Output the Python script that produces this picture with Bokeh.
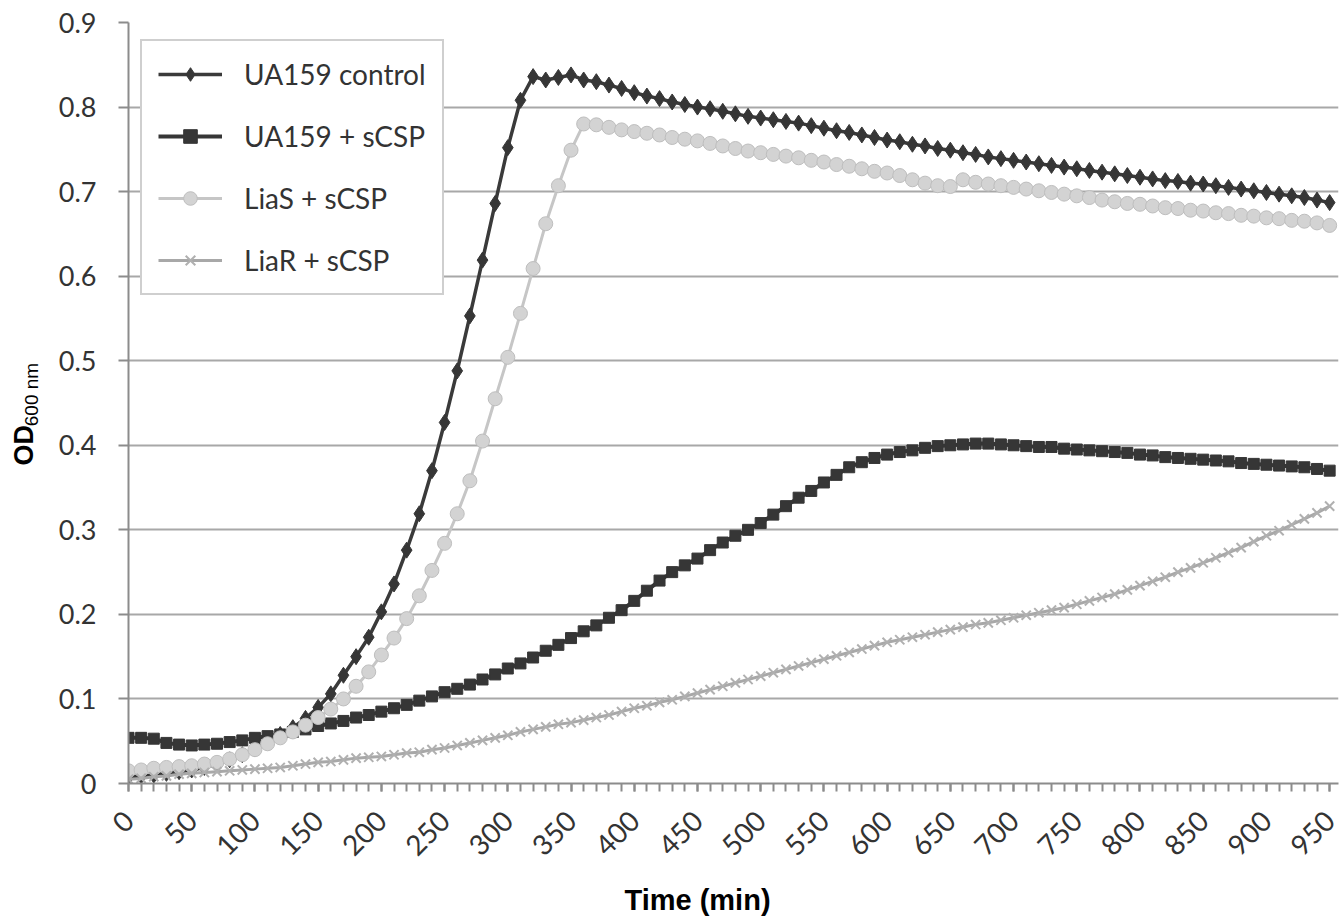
import math
from bokeh.plotting import figure
from bokeh.layouts import row, column
from bokeh.models import FixedTicker, Legend, LegendItem, Label, Range1d
from bokeh.embed import file_html
from bokeh.resources import INLINE

# ---------------- data ----------------
time_min = [
    0, 10, 20, 30, 40, 50, 60, 70, 80, 90,
    100, 110, 120, 130, 140, 150, 160, 170, 180, 190,
    200, 210, 220, 230, 240, 250, 260, 270, 280, 290,
    300, 310, 320, 330, 340, 350, 360, 370, 380, 390,
    400, 410, 420, 430, 440, 450, 460, 470, 480, 490,
    500, 510, 520, 530, 540, 550, 560, 570, 580, 590,
    600, 610, 620, 630, 640, 650, 660, 670, 680, 690,
    700, 710, 720, 730, 740, 750, 760, 770, 780, 790,
    800, 810, 820, 830, 840, 850, 860, 870, 880, 890,
    900, 910, 920, 930, 940, 950,
]

ua159_control = [
    0.008, 0.009, 0.010, 0.012, 0.014, 0.016, 0.019, 0.023, 0.028, 0.034,
    0.041, 0.049, 0.058, 0.066, 0.077, 0.090, 0.106, 0.128, 0.150, 0.173,
    0.203, 0.236, 0.276, 0.319, 0.370, 0.427, 0.488, 0.553, 0.619, 0.686,
    0.752, 0.808, 0.836, 0.832, 0.835, 0.838, 0.832, 0.830, 0.826, 0.822,
    0.817, 0.813, 0.810, 0.806, 0.803, 0.800, 0.798, 0.795, 0.792, 0.789,
    0.787, 0.785, 0.783, 0.781, 0.778, 0.775, 0.772, 0.770, 0.767, 0.764,
    0.761, 0.759, 0.756, 0.754, 0.751, 0.749, 0.746, 0.744, 0.741, 0.739,
    0.737, 0.735, 0.733, 0.731, 0.729, 0.727, 0.725, 0.723, 0.721, 0.719,
    0.717, 0.715, 0.713, 0.712, 0.710, 0.709, 0.707, 0.705, 0.703, 0.701,
    0.699, 0.697, 0.695, 0.693, 0.690, 0.687,
]

ua159_scsp = [
    0.054, 0.054, 0.053, 0.048, 0.046, 0.045, 0.046, 0.047, 0.049, 0.051,
    0.054, 0.056, 0.058, 0.061, 0.064, 0.068, 0.071, 0.074, 0.078, 0.081,
    0.085, 0.089, 0.093, 0.098, 0.103, 0.108, 0.112, 0.117, 0.123, 0.129,
    0.136, 0.142, 0.149, 0.157, 0.164, 0.172, 0.180, 0.187, 0.196, 0.205,
    0.216, 0.228, 0.240, 0.250, 0.258, 0.266, 0.276, 0.285, 0.293, 0.300,
    0.308, 0.318, 0.328, 0.338, 0.346, 0.356, 0.365, 0.374, 0.380, 0.385,
    0.389, 0.392, 0.394, 0.397, 0.399, 0.400, 0.401, 0.402, 0.402, 0.401,
    0.400, 0.399, 0.398, 0.398, 0.396, 0.395, 0.394, 0.393, 0.392, 0.391,
    0.389, 0.388, 0.386, 0.385, 0.384, 0.383, 0.382, 0.381, 0.379, 0.378,
    0.377, 0.376, 0.375, 0.374, 0.372, 0.370,
]

lias_scsp = [
    0.015, 0.016, 0.018, 0.019, 0.020, 0.021, 0.023, 0.025, 0.029, 0.034,
    0.040, 0.047, 0.054, 0.061, 0.069, 0.078, 0.088, 0.100, 0.115, 0.132,
    0.152, 0.172, 0.195, 0.222, 0.252, 0.284, 0.319, 0.358, 0.405, 0.455,
    0.504, 0.556, 0.609, 0.662, 0.707, 0.749, 0.780, 0.779, 0.776, 0.773,
    0.771, 0.769, 0.767, 0.764, 0.762, 0.760, 0.757, 0.754, 0.751, 0.748,
    0.746, 0.744, 0.742, 0.740, 0.737, 0.735, 0.732, 0.730, 0.727, 0.724,
    0.722, 0.719, 0.714, 0.710, 0.707, 0.706, 0.714, 0.711, 0.709, 0.707,
    0.705, 0.703, 0.701, 0.699, 0.697, 0.695, 0.693, 0.690, 0.688, 0.686,
    0.685, 0.683, 0.681, 0.680, 0.678, 0.677, 0.675, 0.674, 0.672, 0.671,
    0.669, 0.668, 0.666, 0.665, 0.663, 0.660,
]

liar_scsp = [
    0.005, 0.006, 0.008, 0.009, 0.011, 0.012, 0.013, 0.014, 0.015, 0.016,
    0.017, 0.018, 0.019, 0.021, 0.023, 0.025, 0.026, 0.028, 0.030, 0.031,
    0.032, 0.034, 0.036, 0.037, 0.040, 0.042, 0.045, 0.048, 0.051, 0.054,
    0.057, 0.061, 0.064, 0.067, 0.070, 0.072, 0.075, 0.078, 0.081, 0.085,
    0.089, 0.092, 0.096, 0.099, 0.103, 0.107, 0.111, 0.115, 0.119, 0.123,
    0.127, 0.131, 0.135, 0.139, 0.143, 0.147, 0.151, 0.155, 0.159, 0.163,
    0.167, 0.170, 0.173, 0.176, 0.179, 0.182, 0.185, 0.188, 0.190, 0.193,
    0.196, 0.199, 0.202, 0.205, 0.208, 0.212, 0.216, 0.220, 0.224, 0.229,
    0.234, 0.239, 0.244, 0.250, 0.255, 0.261, 0.267, 0.273, 0.279, 0.286,
    0.293, 0.299, 0.306, 0.313, 0.320, 0.328,
]

series_names = ["UA159 control", "UA159 + sCSP", "LiaS + sCSP", "LiaR + sCSP"]

x_tick_values = [0, 50, 100, 150, 200, 250, 300, 350, 400, 450,
                 500, 550, 600, 650, 700, 750, 800, 850, 900, 950]
x_tick_labels = ["0", "50", "100", "150", "200", "250", "300", "350", "400", "450",
                 "500", "550", "600", "650", "700", "750", "800", "850", "900", "950"]
y_tick_values = [0.0, 0.1, 0.2, 0.3, 0.4, 0.5, 0.6, 0.7, 0.8, 0.9]
y_tick_labels = ["0", "0.1", "0.2", "0.3", "0.4", "0.5", "0.6", "0.7", "0.8", "0.9"]

x_title = "Time (min)"
y_title_main = "OD"
y_title_sub = "600 nm"

LEFT_W = 50      # width of the strip that holds the y title
BOTTOM_H = 50    # height of the strip that holds the x title
W, H = 1344, 919

# ---------------- main figure ----------------
p = figure(
    width=W - LEFT_W, height=H - BOTTOM_H,
    output_backend="svg", toolbar_location=None,
    x_range=Range1d(0, 957), y_range=Range1d(0, 0.9),
    min_border_left=128 - LEFT_W, min_border_right=6,
    min_border_top=22, min_border_bottom=136 - BOTTOM_H,
)
p.outline_line_color = None
p.background_fill_color = "white"
p.border_fill_color = "white"

TICK_FONT = "Lato"
p.xgrid.grid_line_color = None
p.ygrid.grid_line_color = "#a8a8a8"
p.ygrid.grid_line_width = 2

for ax in (p.xaxis, p.yaxis):
    ax.axis_line_color = "#8c8c8c"
    ax.axis_line_width = 2
    ax.major_tick_line_color = "#8c8c8c"
    ax.major_tick_line_width = 2
    ax.major_tick_in = 0
    ax.major_label_text_font = TICK_FONT
    ax.major_label_text_font_size = "27px"
    ax.major_label_text_color = "#333333"

p.yaxis.ticker = FixedTicker(ticks=y_tick_values)
p.yaxis.major_label_overrides = dict(zip(y_tick_values, y_tick_labels))
p.yaxis.major_tick_out = 10
p.yaxis.minor_tick_line_color = None
p.yaxis.major_label_standoff = 22

p.xaxis.ticker = FixedTicker(ticks=x_tick_values, minor_ticks=time_min)
p.xaxis.major_label_overrides = dict(zip(x_tick_values, x_tick_labels))
p.xaxis.major_label_text_font_size = "28px"
p.xaxis.major_tick_out = 8
p.xaxis.minor_tick_out = 8
p.xaxis.minor_tick_in = 0
p.xaxis.minor_tick_line_color = "#8c8c8c"
p.xaxis.minor_tick_line_width = 2
p.xaxis.major_label_orientation = math.pi / 4
p.xaxis.major_label_standoff = 24

# ---------------- series ----------------
l1 = p.line(time_min, ua159_control, line_color="#3a3a3a", line_width=3.5)
m1 = p.scatter(time_min, ua159_control, marker="diamond", size=16,
               fill_color="#363636", line_color="#363636")

l2 = p.line(time_min, ua159_scsp, line_color="#363636", line_width=4)
m2 = p.scatter(time_min, ua159_scsp, marker="square", size=11,
               fill_color="#363636", line_color="#363636")

l3 = p.line(time_min, lias_scsp, line_color="#c6c6c6", line_width=3)
m3 = p.scatter(time_min, lias_scsp, marker="circle", size=14,
               fill_color="#d3d3d3", line_color="#bebebe", line_width=1)

l4 = p.line(time_min, liar_scsp, line_color="#a8a8a8", line_width=3)
m4 = p.scatter(time_min, liar_scsp, marker="x", size=13,
               line_color="#b0b0b0", line_width=2)

legend = Legend(
    items=[
        LegendItem(label=series_names[0], renderers=[l1, m1]),
        LegendItem(label=series_names[1], renderers=[l2, m2]),
        LegendItem(label=series_names[2], renderers=[l3, m3]),
        LegendItem(label=series_names[3], renderers=[l4, m4]),
    ],
    location=(12, 488),
    orientation="vertical",
    padding=16,
    spacing=28,
    margin=0,
    glyph_width=64,
    glyph_height=34,
    label_height=34,
    label_standoff=22,
    label_text_font="Lato",
    label_text_font_size="28px",
    label_text_color="#333333",
    border_line_color="#a0a0a0",
    border_line_width=2,
    background_fill_color="white",
    background_fill_alpha=1.0,
)
p.add_layout(legend, "center")

# ---------------- strip with the y-axis title (OD with subscript) ----------------
def strip(width, height, y0, y1):
    f = figure(width=width, height=height, output_backend="svg", toolbar_location=None,
               x_range=Range1d(0, width), y_range=Range1d(y1, y0),
               min_border=0, x_axis_type=None, y_axis_type=None)
    f.outline_line_color = None
    f.grid.grid_line_color = None
    f.background_fill_color = "white"
    f.border_fill_color = "white"
    return f

left = strip(LEFT_W, H - BOTTOM_H, 0, H - BOTTOM_H)
left.add_layout(Label(x=23, y=506, text=y_title_main, angle=math.pi / 2,
                      text_font="Liberation Sans", text_font_style="bold",
                      text_font_size="27px", text_color="black",
                      text_align="left", text_baseline="middle"))
left.add_layout(Label(x=31, y=461, text=y_title_sub, angle=math.pi / 2,
                      text_font="Liberation Sans", text_font_size="19px",
                      text_color="black",
                      text_align="left", text_baseline="middle"))

# ---------------- strip with the x-axis title ----------------
bottom = strip(W, BOTTOM_H, H - BOTTOM_H, H)
bottom.add_layout(Label(x=697, y=899, text=x_title,
                        text_font="Liberation Sans", text_font_style="bold",
                        text_font_size="29px", text_color="black",
                        text_align="center", text_baseline="middle"))

layout = column(row(left, p, spacing=0), bottom, spacing=0)

open("out.html", "w").write(file_html(layout, INLINE))
